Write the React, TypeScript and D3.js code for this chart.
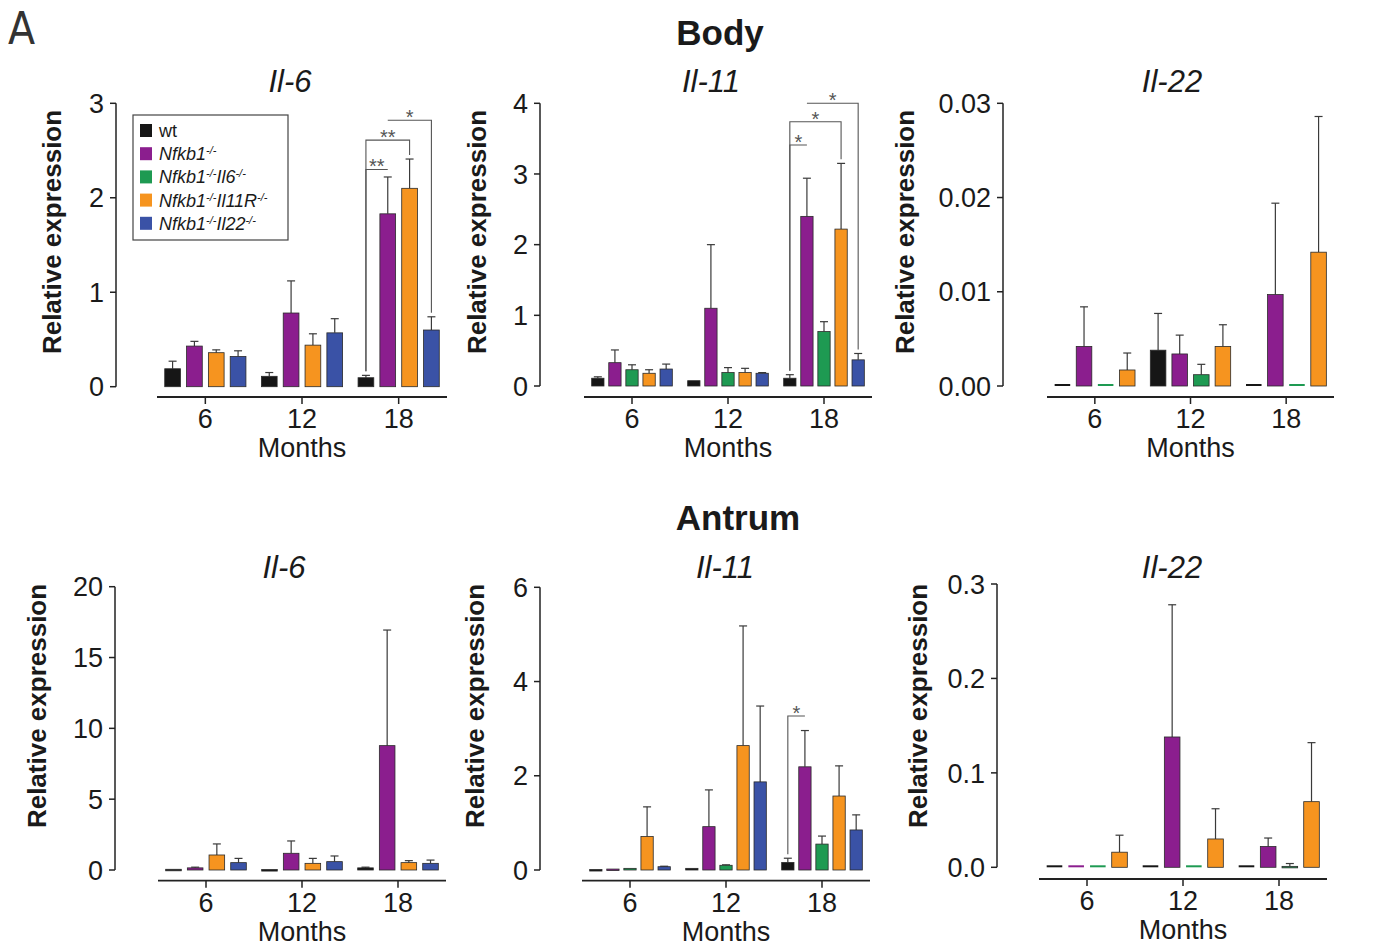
import React from "react";
import * as d3 from "d3";

// months on x
const months = ["6", "12", "18"];

const genotypeColors: Record<string, string> = {
  wt: "#161616",
  nfkb1: "#8b1e8e",
  il6: "#1e9a52",
  il11r: "#f6941f",
  il22: "#3a52a6",
};

// legend entries: key + italic name parts (each followed by -/-)
const legendItems = [
  { key: "wt", parts: [] as string[] },
  { key: "nfkb1", parts: ["Nfkb1"] },
  { key: "il6", parts: ["Nfkb1", "Il6"] },
  { key: "il11r", parts: ["Nfkb1", "Il11R"] },
  { key: "il22", parts: ["Nfkb1", "Il22"] },
];

// ---- Body ----
const bodyIl6Series = ["wt", "nfkb1", "il11r", "il22"];
const bodyIl6Mean = [
  [0.19, 0.43, 0.36, 0.32],
  [0.11, 0.78, 0.44, 0.57],
  [0.095, 1.83, 2.1, 0.6],
];
const bodyIl6Err = [
  [0.08, 0.05, 0.03, 0.06],
  [0.04, 0.34, 0.12, 0.15],
  [0.025, 0.39, 0.31, 0.14],
];
const bodyIl6Ticks = [0, 1, 2, 3];
const bodyIl6Sig = [
  { group: 2, from: "wt", to: "nfkb1", level: 2.3, label: "**", dropFrom: true, dropTo: false },
  { group: 2, from: "wt", to: "il11r", level: 2.61, label: "**", dropFrom: true, dropTo: true },
  { group: 2, from: "nfkb1", to: "il22", level: 2.82, label: "*", dropFrom: false, dropTo: true },
];

const bodyIl11Series = ["wt", "nfkb1", "il6", "il11r", "il22"];
const bodyIl11Mean = [
  [0.11, 0.33, 0.23, 0.18, 0.24],
  [0.075, 1.1, 0.19, 0.19, 0.18],
  [0.11, 2.4, 0.77, 2.22, 0.37],
];
const bodyIl11Err = [
  [0.02, 0.18, 0.07, 0.05, 0.07],
  [0, 0.9, 0.07, 0.06, 0.01],
  [0.05, 0.54, 0.14, 0.93, 0.09],
];
const bodyIl11Ticks = [0, 1, 2, 3, 4];
const bodyIl11Sig = [
  { group: 2, from: "wt", to: "nfkb1", level: 3.41, label: "*", dropFrom: true, dropTo: false },
  { group: 2, from: "wt", to: "il11r", level: 3.74, label: "*", dropFrom: true, dropTo: true },
  { group: 2, from: "nfkb1", to: "il22", level: 4.0, label: "*", dropFrom: false, dropTo: true },
];

const bodyIl22Series = ["wt", "nfkb1", "il6", "il11r"];
const bodyIl22Mean = [
  [0, 0.0042, 0, 0.0017],
  [0.0038, 0.0034, 0.0012, 0.0042],
  [0, 0.0097, 0, 0.0142],
];
const bodyIl22Err = [
  [0, 0.0042, 0, 0.0018],
  [0.0039, 0.002, 0.0011, 0.0023],
  [0, 0.0097, 0, 0.0144],
];
const bodyIl22Ticks = [0, 0.01, 0.02, 0.03];

// ---- Antrum ----
const antrumIl6Series = ["wt", "nfkb1", "il11r", "il22"];
const antrumIl6Mean = [
  [0.05, 0.15, 1.06, 0.52],
  [0.03, 1.18, 0.47, 0.59],
  [0.15, 8.78, 0.52, 0.47],
];
const antrumIl6Err = [
  [0, 0.05, 0.78, 0.3],
  [0, 0.87, 0.35, 0.4],
  [0.05, 8.16, 0.14, 0.23],
];
const antrumIl6Ticks = [0, 5, 10, 15, 20];

const antrumIl11Series = ["wt", "nfkb1", "il6", "il11r", "il22"];
const antrumIl11Mean = [
  [0.01, 0.02, 0.035, 0.71, 0.07],
  [0.035, 0.92, 0.1, 2.64, 1.87],
  [0.16, 2.19, 0.55, 1.57, 0.85],
];
const antrumIl11Err = [
  [0, 0, 0, 0.63, 0.01],
  [0, 0.78, 0.01, 2.54, 1.61],
  [0.09, 0.77, 0.17, 0.64, 0.32],
];
const antrumIl11Ticks = [0, 2, 4, 6];
const antrumIl11Sig = [
  { group: 2, from: "wt", to: "nfkb1", level: 3.27, label: "*", dropFrom: true, dropTo: false },
];

const antrumIl22Series = ["wt", "nfkb1", "il6", "il11r"];
const antrumIl22Mean = [
  [0, 0, 0, 0.016],
  [0, 0.138, 0, 0.03],
  [0, 0.022, 0.001, 0.0695],
];
const antrumIl22Err = [
  [0, 0, 0, 0.018],
  [0, 0.14, 0, 0.032],
  [0, 0.009, 0.003, 0.0625],
];
const antrumIl22Ticks = [0, 0.1, 0.2, 0.3];

const FONT = "'Liberation Sans', Arial, Helvetica, sans-serif";

type Sig = { group: number; from: string; to: string; level: number; label: string; dropFrom: boolean; dropTo: boolean };

type PanelProps = {
  title: string;
  series: string[];
  mean: number[][];
  err: number[][];
  ticks: number[];
  fmt: string;
  sig?: Sig[];
  yAxisX: number;
  y0: number;
  yTop: number;
  xLeft: number;
  xRight: number;
  xAxisY: number;
  labelX: number;
  labelY: number;
  titleX: number;
  titleY: number;
  legend?: boolean;
};

function Panel(p: PanelProps) {
  const ymax = p.ticks[p.ticks.length - 1];
  const y = d3.scaleLinear().domain([0, ymax]).range([p.y0, p.yTop]);
  const x0 = d3.scaleBand().domain(months).range([p.xLeft, p.xRight]).paddingInner(0.16).paddingOuter(0.08);
  const x1 = d3.scaleBand().domain(p.series).range([0, x0.bandwidth()]).paddingInner(0.28).paddingOuter(0);
  const bw = x1.bandwidth();
  const fmt = d3.format(p.fmt);
  const cx = (g: number, s: string) => (x0(months[g]) as number) + (x1(s) as number) + bw / 2;
  const top = (g: number, s: string) => {
    const i = p.series.indexOf(s);
    return p.mean[g][i] + p.err[g][i];
  };

  return (
    <g>
      <text x={p.titleX} y={p.titleY} textAnchor="middle" fontSize={31} fontStyle="italic" fill="#1a1a1a">
        {p.title}
      </text>
      {/* y axis */}
      <line x1={p.yAxisX} x2={p.yAxisX} y1={y(0)} y2={y(ymax)} stroke="#222" strokeWidth={1.5} />
      {p.ticks.map((t) => (
        <g key={t}>
          <line x1={p.yAxisX - 6} x2={p.yAxisX} y1={y(t)} y2={y(t)} stroke="#222" strokeWidth={1.5} />
          <text x={p.yAxisX - 12} y={y(t)} dy="0.36em" textAnchor="end" fontSize={27} fill="#1a1a1a">
            {fmt(t)}
          </text>
        </g>
      ))}
      <text
        transform={`translate(${p.labelX},${p.labelY}) rotate(-90)`}
        textAnchor="middle"
        fontSize={26}
        fontWeight="bold"
        fill="#1a1a1a"
      >
        Relative expression
      </text>
      {/* x axis */}
      <line x1={p.xLeft} x2={p.xRight} y1={p.xAxisY} y2={p.xAxisY} stroke="#222" strokeWidth={1.8} />
      {months.map((m) => {
        const c = (x0(m) as number) + x0.bandwidth() / 2;
        return (
          <g key={m}>
            <line x1={c} x2={c} y1={p.xAxisY} y2={p.xAxisY + 7} stroke="#222" strokeWidth={1.5} />
            <text x={c} y={p.xAxisY + 31} textAnchor="middle" fontSize={27} fill="#1a1a1a">
              {m}
            </text>
          </g>
        );
      })}
      <text x={(p.xLeft + p.xRight) / 2} y={p.xAxisY + 60} textAnchor="middle" fontSize={27} fill="#1a1a1a">
        Months
      </text>
      {/* bars */}
      {months.map((m, gi) =>
        p.series.map((s, si) => {
          const v = p.mean[gi][si];
          const e = p.err[gi][si];
          const bx = (x0(m) as number) + (x1(s) as number);
          const c = bx + bw / 2;
          if (v === 0) {
            return (
              <line key={m + s} x1={bx} x2={bx + bw} y1={y(0) - 1} y2={y(0) - 1} stroke={genotypeColors[s]} strokeWidth={2} />
            );
          }
          return (
            <g key={m + s}>
              {e > 0 && (
                <g stroke="#3a3a3a" strokeWidth={1.2}>
                  <line x1={c} x2={c} y1={y(v)} y2={y(v + e)} />
                  <line x1={c - 4} x2={c + 4} y1={y(v + e)} y2={y(v + e)} />
                </g>
              )}
              <rect
                x={bx}
                y={y(v)}
                width={bw}
                height={Math.max(1.5, y(0) - y(v))}
                fill={genotypeColors[s]}
                stroke="#2a2a2a"
                strokeWidth={0.8}
              />
            </g>
          );
        })
      )}
      {/* significance brackets */}
      {(p.sig || []).map((b, i) => {
        const xa = cx(b.group, b.from);
        const xb = cx(b.group, b.to);
        const yl = y(b.level);
        const ya = b.dropFrom ? y(top(b.group, b.from)) - 4 : yl;
        const yb = b.dropTo ? y(top(b.group, b.to)) - 4 : yl;
        return (
          <g key={i}>
            <path d={`M${xa},${ya}V${yl}H${xb}V${yb}`} fill="none" stroke="#555" strokeWidth={1.1} />
            <text x={(xa + xb) / 2} y={yl + 4} textAnchor="middle" fontSize={20} fill="#555">
              {b.label}
            </text>
          </g>
        );
      })}
      {p.legend && <Legend />}
    </g>
  );
}

function Legend() {
  const lx = 133;
  const ly = 115;
  return (
    <g>
      <rect x={lx} y={ly} width={155} height={125} fill="#fff" stroke="#444" strokeWidth={1.2} />
      {legendItems.map((it, i) => {
        const yy = ly + 15 + i * 23.2;
        return (
          <g key={it.key}>
            <rect x={lx + 7} y={yy - 6} width={12} height={13} fill={genotypeColors[it.key]} />
            <text
              x={lx + 26}
              y={yy + 7}
              fontSize={18}
              fill="#1a1a1a"
              fontStyle={it.key === "wt" ? "normal" : "italic"}
            >
              {it.key === "wt"
                ? "wt"
                : it.parts.map((part, j) => (
                    <React.Fragment key={j}>
                      <tspan dy={j === 0 ? 0 : 6}>{part}</tspan>
                      <tspan dy={-6} fontSize={11}>
                        -/-
                      </tspan>
                    </React.Fragment>
                  ))}
            </text>
          </g>
        );
      })}
    </g>
  );
}

export default function App() {
  return (
    <div style={{ position: "absolute", left: 0, top: 0 }}>
      <svg width={1392} height={948} style={{ display: "block", background: "#fff", fontFamily: FONT }}>
        <text x={8} y={44} fontSize={44} fontFamily="'Liberation Sans Narrow', 'DejaVu Sans Condensed', sans-serif" fill="#333">
          A
        </text>
        <text x={720} y={45} textAnchor="middle" fontSize={35} fontWeight="bold" fill="#1a1a1a">
          Body
        </text>
        <text x={738} y={530} textAnchor="middle" fontSize={35} fontWeight="bold" fill="#1a1a1a">
          Antrum
        </text>

        <Panel
          title="Il-6" series={bodyIl6Series} mean={bodyIl6Mean} err={bodyIl6Err} ticks={bodyIl6Ticks} fmt="d" sig={bodyIl6Sig}
          yAxisX={116} y0={386.7} yTop={103.3} xLeft={157} xRight={447} xAxisY={397} labelX={61} labelY={232} titleX={290} titleY={92} legend
        />
        <Panel
          title="Il-11" series={bodyIl11Series} mean={bodyIl11Mean} err={bodyIl11Err} ticks={bodyIl11Ticks} fmt="d" sig={bodyIl11Sig}
          yAxisX={540} y0={386} yTop={103.3} xLeft={584} xRight={872} xAxisY={397} labelX={486} labelY={232} titleX={711} titleY={92}
        />
        <Panel
          title="Il-22" series={bodyIl22Series} mean={bodyIl22Mean} err={bodyIl22Err} ticks={bodyIl22Ticks} fmt=".2f"
          yAxisX={1003} y0={386} yTop={103.3} xLeft={1047} xRight={1334} xAxisY={397} labelX={914} labelY={232} titleX={1172} titleY={92}
        />
        <Panel
          title="Il-6" series={antrumIl6Series} mean={antrumIl6Mean} err={antrumIl6Err} ticks={antrumIl6Ticks} fmt="d"
          yAxisX={115} y0={870} yTop={586.7} xLeft={158} xRight={446} xAxisY={880.7} labelX={46} labelY={706} titleX={284} titleY={578}
        />
        <Panel
          title="Il-11" series={antrumIl11Series} mean={antrumIl11Mean} err={antrumIl11Err} ticks={antrumIl11Ticks} fmt="d" sig={antrumIl11Sig}
          yAxisX={540} y0={870} yTop={587.3} xLeft={582} xRight={870} xAxisY={880.7} labelX={484} labelY={706} titleX={725} titleY={578}
        />
        <Panel
          title="Il-22" series={antrumIl22Series} mean={antrumIl22Mean} err={antrumIl22Err} ticks={antrumIl22Ticks} fmt=".1f"
          yAxisX={997} y0={867.3} yTop={584} xLeft={1039} xRight={1327} xAxisY={879} labelX={927} labelY={706} titleX={1172} titleY={578}
        />
      </svg>
    </div>
  );
}
